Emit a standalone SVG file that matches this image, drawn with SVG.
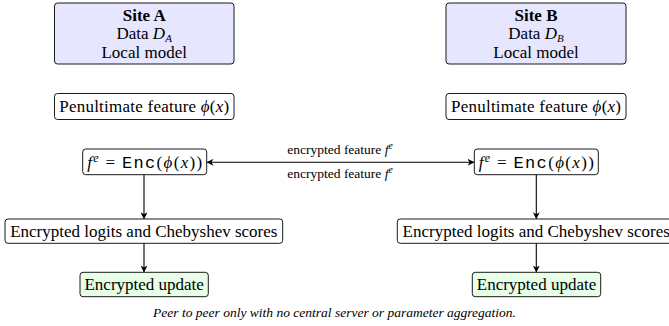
<svg xmlns="http://www.w3.org/2000/svg" width="669" height="326" viewBox="0 0 669 326">
<defs>
<style>
.box{fill:#ffffff;stroke:#000;stroke-width:0.9}
.site{fill:#e6e6ff;stroke:#000;stroke-width:0.9}
.upd{fill:#e6ffe6;stroke:#000;stroke-width:0.9}
.t{font-family:"Liberation Serif","Times New Roman",serif;font-size:17px;fill:#000;text-anchor:middle}
.b{font-weight:bold}
.i{font-style:italic}
.m{font-family:"Liberation Mono","Courier New",monospace}
.lbl{font-family:"Liberation Serif","Times New Roman",serif;font-size:13.5px;fill:#000;text-anchor:middle}
.cap{font-family:"Liberation Serif","Times New Roman",serif;font-size:13.5px;font-style:italic;fill:#000;text-anchor:middle}
.ln{stroke:#000;stroke-width:1.1;fill:none}
</style>
<marker id="ah" viewBox="0 0 10 10" refX="9" refY="5" markerWidth="7" markerHeight="7" markerUnits="userSpaceOnUse" orient="auto-start-reverse">
<path d="M0,0 L10,5 L0,10 L3,5 Z" fill="#000"/>
</marker>
</defs>

<g id="siteA">
<rect class="site" x="54.5" y="3" width="179.5" height="61" rx="3"/>
<text class="t b" x="144.2" y="20.5">Site A</text>
<text class="t" x="144.2" y="39">Data <tspan class="i">D</tspan><tspan class="i" font-size="11" dy="2.5">A</tspan></text>
<text class="t" x="144.2" y="57.5">Local model</text>
</g>
<g id="siteB">
<rect class="site" x="446" y="3" width="180" height="61" rx="3"/>
<text class="t b" x="536" y="20.5">Site B</text>
<text class="t" x="536" y="39">Data <tspan class="i">D</tspan><tspan class="i" font-size="11" dy="2.5">B</tspan></text>
<text class="t" x="536" y="57.5">Local model</text>
</g>

<g id="penA">
<rect class="box" x="54.5" y="93.5" width="179.5" height="26" rx="3"/>
<text class="t" x="144.2" y="111.8" textLength="170" lengthAdjust="spacing">Penultimate feature <tspan class="i">ϕ</tspan>(<tspan class="i">x</tspan>)</text>
</g>
<g id="penB">
<rect class="box" x="446" y="93.5" width="180" height="26" rx="3"/>
<text class="t" x="536" y="111.8" textLength="170" lengthAdjust="spacing">Penultimate feature <tspan class="i">ϕ</tspan>(<tspan class="i">x</tspan>)</text>
</g>

<g id="encA">
<rect class="box" x="82.7" y="149" width="124" height="25.7" rx="3"/>
<text class="t" x="144.7" y="167.5" textLength="115" lengthAdjust="spacing"><tspan class="i">f</tspan><tspan class="i" font-size="12" dy="-6">e</tspan><tspan dy="6"> = </tspan><tspan class="m">Enc</tspan>(<tspan class="i">ϕ</tspan>(<tspan class="i">x</tspan>))</text>
</g>
<g id="encB">
<rect class="box" x="474.3" y="149" width="124" height="25.7" rx="3"/>
<text class="t" x="536.3" y="167.5" textLength="115" lengthAdjust="spacing"><tspan class="i">f</tspan><tspan class="i" font-size="12" dy="-6">e</tspan><tspan dy="6"> = </tspan><tspan class="m">Enc</tspan>(<tspan class="i">ϕ</tspan>(<tspan class="i">x</tspan>))</text>
</g>

<g id="logA">
<rect class="box" x="5" y="219" width="277.7" height="24.3" rx="3"/>
<text class="t" x="143.8" y="236.8">Encrypted logits and Chebyshev scores</text>
</g>
<g id="logB">
<rect class="box" x="397.3" y="219" width="277.7" height="24.3" rx="3"/>
<text class="t" x="536.2" y="236.8">Encrypted logits and Chebyshev scores</text>
</g>

<g id="updA">
<rect class="upd" x="80" y="272.3" width="128.3" height="24.4" rx="3"/>
<text class="t" x="144.2" y="290">Encrypted update</text>
</g>
<g id="updB">
<rect class="upd" x="472.3" y="272.3" width="128.4" height="24.4" rx="3"/>
<text class="t" x="536.5" y="290">Encrypted update</text>
</g>

<g id="connectors">
<line class="ln" x1="207.2" y1="162.3" x2="473.8" y2="162.3" marker-start="url(#ah)" marker-end="url(#ah)"/>
<text class="lbl" x="340" y="153.5">encrypted feature <tspan class="i">f</tspan><tspan class="i" font-size="9.5" dy="-5">e</tspan></text>
<text class="lbl" x="340" y="177.5">encrypted feature <tspan class="i">f</tspan><tspan class="i" font-size="9.5" dy="-5">e</tspan></text>
<line class="ln" x1="144" y1="174.7" x2="144" y2="218.5" marker-end="url(#ah)"/>
<line class="ln" x1="144" y1="243.3" x2="144" y2="271.8" marker-end="url(#ah)"/>
<line class="ln" x1="536.3" y1="174.7" x2="536.3" y2="218.5" marker-end="url(#ah)"/>
<line class="ln" x1="536.3" y1="243.3" x2="536.3" y2="271.8" marker-end="url(#ah)"/>
</g>

<text class="cap" x="334.5" y="317">Peer to peer only with no central server or parameter aggregation.</text>
</svg>
